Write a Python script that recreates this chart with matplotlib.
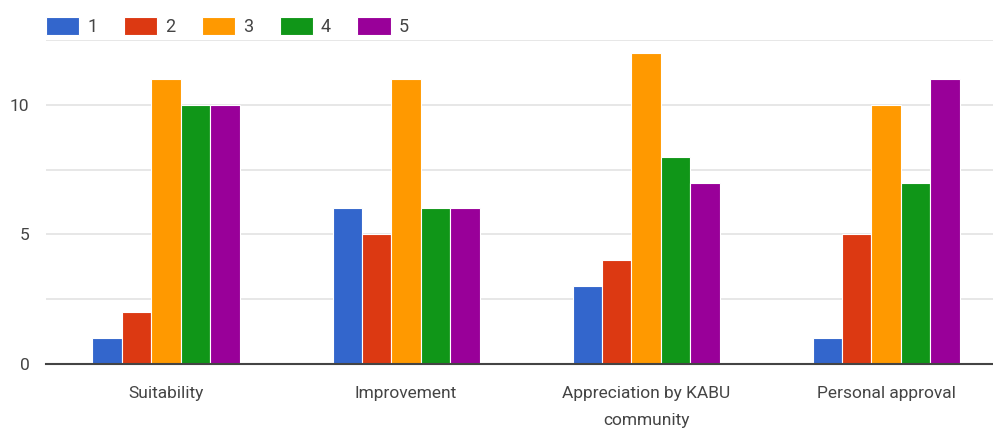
import matplotlib
matplotlib.use("Agg")
import matplotlib.pyplot as plt
import numpy as np

categories = ["Suitability", "Improvement", "Appreciation by KABU\ncommunity", "Personal approval"]
series_names = ["1", "2", "3", "4", "5"]
s1 = [1, 6, 3, 1]
s2 = [2, 5, 4, 5]
s3 = [11, 11, 12, 10]
s4 = [10, 6, 8, 7]
s5 = [10, 6, 7, 11]
series_values = [s1, s2, s3, s4, s5]
colors = ["#3366cc", "#dc3912", "#ff9900", "#109618", "#990099"]
yticks = [0, 5, 10]

plt.rcParams['font.family'] = ['Roboto', 'DejaVu Sans']
fig = plt.figure(figsize=(9.93, 4.33), dpi=100)
ax = fig.add_axes([46/993, 1-364/433, 960/993, (364-40)/433])

n = len(series_names)
x = np.arange(len(categories))
group_w = 0.6125
bw = group_w / n
for i, (name, vals, c) in enumerate(zip(series_names, series_values, colors)):
    ax.bar(x - group_w/2 + bw*(i+0.5), vals, width=bw, color=c, edgecolor="white",
           linewidth=0.8, label=name, zorder=3)

ax.set_xlim(-0.5, len(categories)-0.5)
ax.set_ylim(0, 12.5)
ax.set_yticks([0, 2.5, 5, 7.5, 10, 12.5])
ax.set_yticklabels(["0", "", "5", "", "10", ""])
ax.grid(axis="y", color="#e3e3e3", linewidth=1.2, zorder=0)
ax.set_xticks(x)
ax.set_xticklabels(categories, linespacing=2.0)
for s in ["top", "right", "left"]:
    ax.spines[s].set_visible(False)
ax.spines["bottom"].set_color("#444444")
ax.spines["bottom"].set_linewidth(1.5)
ax.spines["bottom"].set_zorder(4)
ax.tick_params(axis="both", length=0, labelsize=12.5, colors="#444444")
ax.tick_params(axis="x", pad=16)
ax.tick_params(axis="y", pad=12)
for lab in ax.get_yticklabels():
    lab.set_horizontalalignment("right")

leg = ax.legend(loc="lower left", bbox_to_anchor=(0, 1.012), ncol=5, frameon=False,
                fontsize=13, handlelength=1.85, handleheight=1.2, handletextpad=0.45,
                columnspacing=1.45, borderaxespad=0.0, borderpad=0.0)
for t in leg.get_texts():
    t.set_color("#444444")

fig.savefig("out.png", dpi=100)
